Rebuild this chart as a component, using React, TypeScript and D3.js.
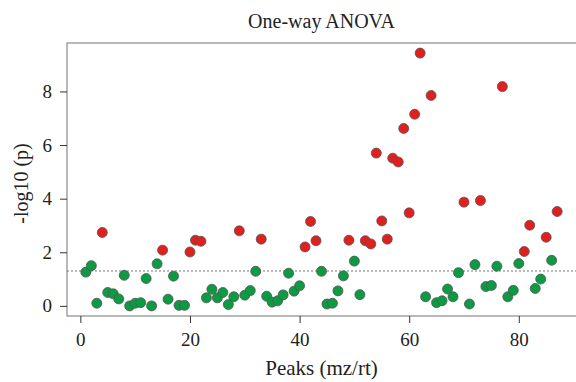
import { useEffect, useRef } from 'react';
import * as d3 from 'd3';

// -log10(p) for peaks 1..87
const pValues = [
  1.26, 1.5, 0.1, 2.74, 0.5, 0.45, 0.26, 1.14, 0.0, 0.1,
  0.12, 1.02, 0.0, 1.57, 2.08, 0.25, 1.11, 0.02, 0.02, 2.01,
  2.45, 2.41, 0.3, 0.62, 0.3, 0.5, 0.05, 0.34, 2.8, 0.4,
  0.57, 1.29, 2.49, 0.36, 0.14, 0.19, 0.41, 1.22, 0.55, 0.75,
  2.2, 3.15, 2.43, 1.29, 0.07, 0.1, 0.56, 1.12, 2.45, 1.67,
  0.42, 2.43, 2.31, 5.7, 3.17, 2.49, 5.51, 5.37, 6.62, 3.47,
  7.15, 9.43, 0.34, 7.85, 0.12, 0.19, 0.63, 0.34, 1.24, 3.87,
  0.07, 1.54, 3.93, 0.72, 0.76, 1.48, 8.18, 0.34, 0.58, 1.58,
  2.03, 3.01, 0.65, 1.0, 2.56, 1.7, 3.52,
];
const threshold = -Math.log10(0.05);
const xTicks = [0, 20, 40, 60, 80];
const yTicks = [0, 2, 4, 6, 8];

export default function App() {
  const svgRef = useRef<SVGSVGElement>(null);

  useEffect(() => {
    if (!svgRef.current) return;
    const width = 576;
    const height = 382;
    const margin = { top: 43, right: 0, bottom: 66, left: 67 };

    const svg = d3.select(svgRef.current);
    svg.selectAll('*').remove();

    const x = d3.scaleLinear()
      .domain([1 - 86 * 0.04, 87 + 86 * 0.04])
      .range([margin.left, width - margin.right]);
    const y = d3.scaleLinear()
      .domain([-9.43 * 0.04, 9.43 * 1.04])
      .range([height - margin.bottom, margin.top]);

    const font = '"Liberation Serif", "DejaVu Serif", serif';

    // plot box
    svg.append('rect')
      .attr('x', margin.left)
      .attr('y', margin.top)
      .attr('width', width - margin.left - margin.right + 1)
      .attr('height', height - margin.bottom - margin.top)
      .attr('fill', 'none')
      .attr('stroke', '#8a8a8a')
      .attr('stroke-width', 1.2);

    // x axis
    const xAxis = svg.append('g')
      .attr('transform', `translate(0,${height - margin.bottom})`)
      .call(d3.axisBottom(x).tickValues(xTicks).tickSize(7).tickPadding(10));
    xAxis.select('.domain').remove();
    xAxis.selectAll('line').attr('stroke', '#333');
    xAxis.selectAll('text')
      .attr('font-family', font)
      .attr('font-size', 19)
      .attr('fill', '#222');

    // y axis
    const yAxis = svg.append('g')
      .attr('transform', `translate(${margin.left},0)`)
      .call(d3.axisLeft(y).tickValues(yTicks).tickSize(7).tickPadding(8));
    yAxis.select('.domain').remove();
    yAxis.selectAll('line').attr('stroke', '#333');
    yAxis.selectAll('text')
      .attr('font-family', font)
      .attr('font-size', 19)
      .attr('fill', '#222');

    // significance line
    svg.append('line')
      .attr('x1', margin.left)
      .attr('x2', width - margin.right)
      .attr('y1', y(threshold))
      .attr('y2', y(threshold))
      .attr('stroke', '#777')
      .attr('stroke-width', 1)
      .attr('stroke-dasharray', '2,2');

    // points
    svg.append('g')
      .selectAll('circle')
      .data(pValues)
      .enter()
      .append('circle')
      .attr('cx', (_, i) => x(i + 1))
      .attr('cy', d => y(d))
      .attr('r', 5)
      .attr('fill', d => (d > 2 ? '#e0201f' : '#0c9a43'))
      .attr('stroke', '#555')
      .attr('stroke-width', 0.8);

    // title and labels
    svg.append('text')
      .attr('x', (margin.left + width) / 2)
      .attr('y', 28)
      .attr('text-anchor', 'middle')
      .attr('font-family', font)
      .attr('font-size', 20)
      .attr('fill', '#222')
      .text('One-way ANOVA');

    svg.append('text')
      .attr('x', (margin.left + width) / 2)
      .attr('y', 375)
      .attr('text-anchor', 'middle')
      .attr('font-family', font)
      .attr('font-size', 21)
      .attr('fill', '#222')
      .text('Peaks (mz/rt)');

    svg.append('text')
      .attr('transform', `translate(28,${(margin.top + height - margin.bottom) / 2 + 4}) rotate(-90)`)
      .attr('text-anchor', 'middle')
      .attr('font-family', font)
      .attr('font-size', 20)
      .attr('fill', '#222')
      .text('-log10 (p)');
  }, []);

  return (
    <svg
      ref={svgRef}
      width={576}
      height={382}
      style={{ position: 'absolute', left: 0, top: 0, background: '#fff' }}
    />
  );
}
